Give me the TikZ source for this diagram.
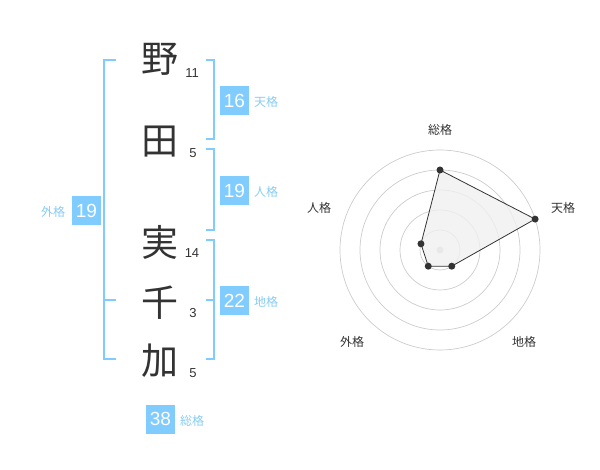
\documentclass[tikz,border=0pt]{standalone}
\usepackage{fontspec}
\usetikzlibrary{calc}
\setmainfont{Liberation Sans}
\newfontfamily\jp{Noto Sans CJK JP}
\definecolor{sky}{HTML}{80CCFF}
\definecolor{skytxt}{HTML}{88CCF2}
\definecolor{ink}{HTML}{333333}
\definecolor{ring}{HTML}{CCCCCC}
\definecolor{area}{HTML}{F0F0F0}
\begin{document}
\begin{tikzpicture}[x=1pt,y=-1pt,
  kanji/.style={text=ink,font=\jp\fontsize{37}{37}\selectfont,inner sep=0pt},
  strokes/.style={text=ink,font=\fontsize{13}{13}\selectfont,inner sep=0pt},
  numbox/.style={fill=sky,text=white,minimum width=29pt,minimum height=29pt,inner sep=0pt,font=\fontsize{19}{19}\selectfont},
  kaku/.style={text=skytxt,font=\jp\fontsize{12}{12}\selectfont,inner sep=0pt},
  bracket/.style={draw=sky,line width=1.6pt},
  rlabel/.style={text=ink,font=\jp\fontsize{12}{12}\selectfont,inner sep=0pt},
  dot/.style={circle,fill=ink,inner sep=0pt,minimum size=7pt}]
\useasboundingbox (0,0) rectangle (600,470);
% characters
\node[kanji] (c1) at (160,59) {野};
\node[kanji] (c2) at (160,142) {田};
\node[kanji] (c3) at (160,242) {実};
\node[kanji] (c4) at (160,303) {千};
\node[kanji] (c5) at (160,361) {加};
\node[strokes] (s1) at (192,73) {11};
\node[strokes] (s2) at (193,153) {5};
\node[strokes] (s3) at (192,253) {14};
\node[strokes] (s4) at (193,313) {3};
\node[strokes] (s5) at (193,373) {5};
% brackets
\draw[bracket] (116,60) -- (104,60) -- (104,359) -- (116,359);
\draw[bracket] (104,300) -- (116,300);
\draw[bracket] (206,60) -- (214,60) -- (214,139) -- (206,139);
\draw[bracket] (206,149) -- (214,149) -- (214,230) -- (206,230);
\draw[bracket] (206,240) -- (214,240) -- (214,359) -- (206,359);
\draw[bracket] (206,300) -- (214,300);
% boxes
\node[numbox] (b1) at (234.5,100.5) {16};
\node[kaku] (k1) at (266,102) {天格};
\node[numbox] (b2) at (234.5,190.5) {19};
\node[kaku] (k2) at (266,192) {人格};
\node[numbox] (b3) at (86.5,210.5) {19};
\node[kaku] (k3) at (53,212) {外格};
\node[numbox] (b4) at (234.5,300.5) {22};
\node[kaku] (k4) at (266,302) {地格};
\node[numbox] (b5) at (160.5,419) {38};
\node[kaku] (k5) at (192,421) {総格};
% radar
\coordinate (o) at (440,250);
\foreach \r in {20,40,60,80,100} \draw[ring,line width=0.7pt] (o) circle[radius=\r];
\fill[ring] (o) circle[radius=3.5];
\coordinate (p1) at ($(o)+(0,-80)$);
\coordinate (p2) at ($(o)+({100*cos(18)},{-100*sin(18)})$);
\coordinate (p3) at ($(o)+({20*cos(54)},{20*sin(54)})$);
\coordinate (p4) at ($(o)+({-20*cos(54)},{20*sin(54)})$);
\coordinate (p5) at ($(o)+({-20*cos(18)},{-20*sin(18)})$);
\filldraw[fill=area,fill opacity=0.8,draw=ink,line width=0.8pt] (p1) -- (p2) -- (p3) -- (p4) -- (p5) -- cycle;
\foreach \i in {1,...,5} \node[dot] (d\i) at (p\i) {};
\node[rlabel] (l1) at (440,130) {総格};
\node[rlabel] (l2) at (563,208) {天格};
\node[rlabel] (l3) at (524,342) {地格};
\node[rlabel] (l4) at (352,342) {外格};
\node[rlabel] (l5) at (319,208) {人格};
\end{tikzpicture}
\end{document}
